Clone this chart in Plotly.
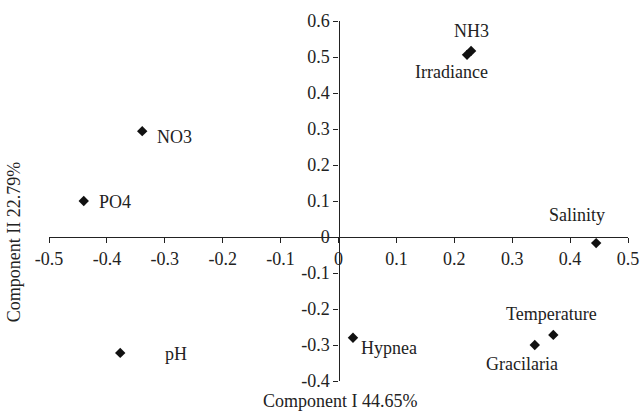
import plotly.graph_objects as go

names = ["NH3", "Irradiance", "NO3", "PO4", "pH", "Hypnea", "Gracilaria", "Temperature", "Salinity"]
comp1 = [0.229, 0.222, -0.339, -0.44, -0.377, 0.025, 0.339, 0.371, 0.445]
comp2 = [0.517, 0.506, 0.294, 0.10, -0.322, -0.28, -0.30, -0.272, -0.017]

x_ticks = [-0.5, -0.4, -0.3, -0.2, -0.1, 0, 0.1, 0.2, 0.3, 0.4, 0.5]
x_tick_text = ["-0.5", "-0.4", "-0.3", "-0.2", "-0.1", "0", "0.1", "0.2", "0.3", "0.4", "0.5"]
y_ticks = [-0.4, -0.3, -0.2, -0.1, 0, 0.1, 0.2, 0.3, 0.4, 0.5, 0.6]
y_tick_text = ["-0.4", "-0.3", "-0.2", "-0.1", "0", "0.1", "0.2", "0.3", "0.4", "0.5", "0.6"]

x_title = "Component I 44.65%"
y_title = "Component II 22.79%"

# label placement (pixel offsets from the marker, anchor)
label_style = {
    "NH3": (0, 20, "center"),
    "Irradiance": (-16, -17, "center"),
    "NO3": (13, -6, "left"),
    "PO4": (13, -1, "left"),
    "pH": (43, -1, "left"),
    "Hypnea": (6, -10, "left"),
    "Gracilaria": (-13, -19, "center"),
    "Temperature": (-2, 21, "center"),
    "Salinity": (-19, 28, "center"),
}

FONT = "Liberation Serif"
FS = 18
INK = "#222222"
fig = go.Figure()
fig.add_trace(go.Scatter(
    x=comp1, y=comp2, mode="markers",
    marker=dict(symbol="diamond", size=8, color="#111111"),
    hoverinfo="text", text=names, showlegend=False,
))

annotations = []
for n, xv, yv in zip(names, comp1, comp2):
    dx, dy, anc = label_style[n]
    annotations.append(dict(x=xv, y=yv, xref="x", yref="y", text=n, showarrow=False,
                            xshift=dx, yshift=dy, xanchor=anc, yanchor="middle",
                            font=dict(family=FONT, size=FS, color=INK)))
annotations.append(dict(x=0.503, y=-0.055, xref="paper", yref="paper", text=x_title, showarrow=False,
                        xanchor="center", yanchor="middle", font=dict(family=FONT, size=FS, color=INK)))
annotations.append(dict(x=-0.06, y=0.386, xref="paper", yref="paper", text=y_title, showarrow=False,
                        textangle=-90, xanchor="center", yanchor="middle",
                        font=dict(family=FONT, size=FS, color=INK)))

axis_common = dict(showline=True, linecolor=INK, linewidth=1.3, ticks="outside", ticklen=5,
                   tickcolor=INK, showgrid=False, zeroline=False, automargin=False,
                   tickfont=dict(family=FONT, size=FS, color=INK))

fig.update_layout(
    width=643, height=411,
    margin=dict(l=49, r=15, t=21, b=30),
    paper_bgcolor="white", plot_bgcolor="white",
    font=dict(family=FONT, size=FS, color=INK),
    xaxis=dict(range=[-0.5, 0.5], tickvals=x_ticks, ticktext=x_tick_text,
               anchor="free", position=0.4, **axis_common),
    yaxis=dict(range=[-0.4, 0.6], tickvals=y_ticks, ticktext=y_tick_text,
               anchor="free", position=0.5, **axis_common),
    annotations=annotations,
)

# remove the page's default body margin / scrollbars so the 643x411 figure fills the window
fig.write_html("out.html", config={"displayModeBar": False},
               post_script="document.body.style.margin='0';document.body.style.overflow='hidden';")
